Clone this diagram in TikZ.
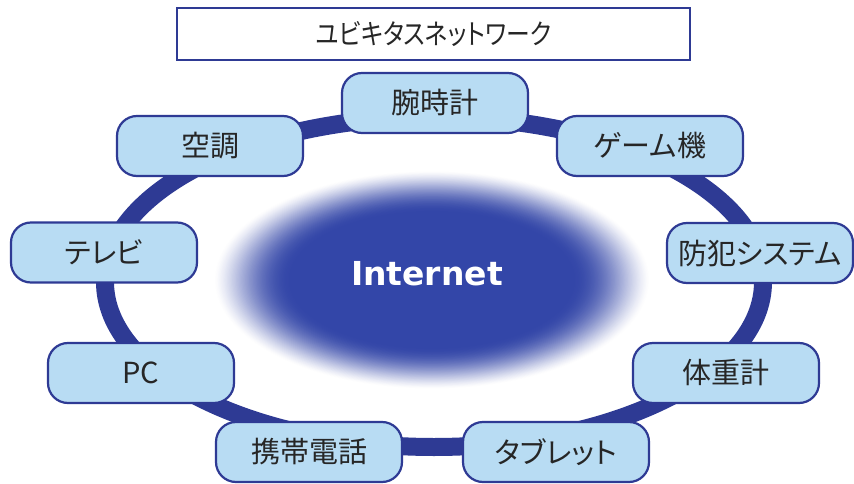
\documentclass[tikz,border=0pt]{standalone}
\usepackage{fontspec}
\usepackage{graphicx}
\newfontfamily\jp[RawFeature=+palt]{Noto Sans CJK JP}
\newfontfamily\netfont{DejaVu Sans}
\definecolor{ringblue}{HTML}{2E3A94}
\definecolor{netblue}{HTML}{3346A8}
\definecolor{boxfill}{HTML}{B8DCF3}
\definecolor{boxedge}{HTML}{2E3A94}
\definecolor{txt}{HTML}{262626}
\tikzset{
  device/.style={draw=boxedge, line width=2.2pt, fill=boxfill, rounded corners=20pt,
    minimum width=186pt, minimum height=60pt, inner sep=0pt,
    font=\jp\fontsize{29pt}{31pt}\selectfont, text=txt},
  titlebox/.style={draw=boxedge, line width=2pt, fill=white,
    minimum width=513pt, minimum height=52pt, inner sep=0pt,
    font=\jp\fontsize{28pt}{30pt}\selectfont, text=txt},
  ringline/.style={draw=ringblue, line width=18pt},
}
\begin{document}
\begin{tikzpicture}[x=1pt,y=-1pt]
\useasboundingbox (0,0) rectangle (854,484);
\fill[white] (0,0) rectangle (854,484);
% ring
\coordinate (ringc) at (434,282);
\draw[ringline] (ringc) ellipse [x radius=329pt, y radius=165pt];
% internet glow: concentric ellipses fading from white to blue
\coordinate (netc) at (432,280);
\foreach \i in {0,...,60}{
  \pgfmathsetmacro\f{\i/60}
  \pgfmathsetmacro\rx{218-78*\f}
  \pgfmathsetmacro\ry{109-42*\f}
  \pgfmathsetmacro\pc{100*sin(90*\f)^1.3}
  \fill[netblue!\pc!white] (netc) ellipse [x radius=\rx pt, y radius=\ry pt];
}
\node[font=\netfont\bfseries\fontsize{33pt}{36pt}\selectfont, text=white] (net) at (427,274) {Internet};
% title
\node[titlebox] (title) at (433.5,34) {\scalebox{0.85}[1]{ユビキタスネットワーク}};
% devices
\node[device] (watch)  at (435,103) {腕時計};
\node[device] (aircon) at (210,146) {空調};
\node[device] (game)   at (650,146) {ゲーム機};
\node[device] (tv)     at (104,252.5) {テレビ};
\node[device] (secure) at (760,253) {防犯システム};
\node[device] (pc)     at (141,373) {PC};
\node[device] (scale)  at (726,373) {体重計};
\node[device] (phone)  at (309,452) {携帯電話};
\node[device] (tablet) at (556,452) {タブレット};
\end{tikzpicture}
\end{document}
